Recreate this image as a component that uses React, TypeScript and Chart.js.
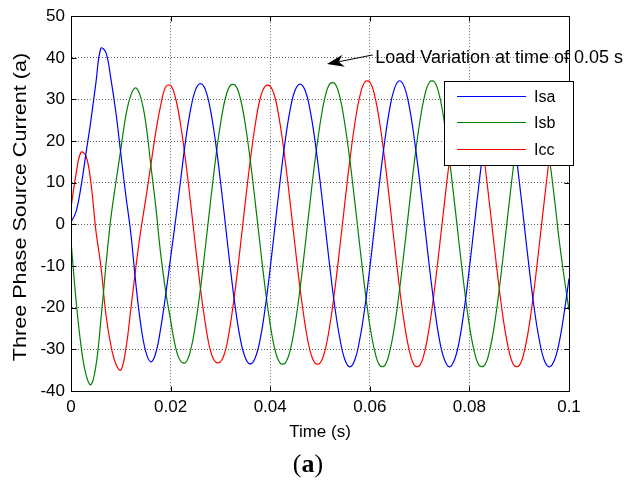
import React, { useEffect, useRef } from 'react';
import { Chart, registerables } from 'chart.js';

Chart.register(...registerables);

// ---- data ----
const timeMs = [
  0, 1, 2, 3, 4, 5, 6, 7, 8, 9, 10, 11, 12, 13, 14, 15, 16, 17, 18, 19, 20,
  21, 22, 23, 24, 25, 26, 27, 28, 29, 30, 31, 32, 33, 34, 35, 36, 37, 38, 39, 40,
  41, 42, 43, 44, 45, 46, 47, 48, 49, 50, 51, 52, 53, 54, 55, 56, 57, 58, 59, 60,
  61, 62, 63, 64, 65, 66, 67, 68, 69, 70, 71, 72, 73, 74, 75, 76, 77, 78, 79, 80,
  81, 82, 83, 84, 85, 86, 87, 88, 89, 90, 91, 92, 93, 94, 95, 96, 97, 98, 99, 100,
];

const isa = [
  0.5, 3, 9, 17, 25, 34, 42.3, 41.3, 35, 27, 17, 7, -2, -14, -24, -30.5, -33, -31, -25, -17, -8,
  1, 10.5, 20, 27.5, 32.3, 33.8, 32.3, 27.5, 20, 10.5, 0, -10.5, -20, -27.5, -32, -33.5, -32, -27.5, -20, -10.5,
  0, 10.5, 20, 27.5, 32.2, 33.7, 32.2, 27.5, 20, 10.5, 0, -10.5, -20, -27.5, -32.5, -34.2, -32.5, -27.5, -20, -10.5,
  0, 10.5, 20, 27.8, 32.8, 34.5, 32.8, 27.8, 20, 10.5, 0, -10.5, -20, -27.8, -32.5, -34.2, -32.5, -27.8, -20, -10.5,
  0, 10.5, 20, 27.5, 32.3, 34, 32.3, 27.5, 20, 10.5, 0, -10.5, -20, -27.5, -32.5, -34.2, -32.8, -28.5, -21.5, -13,
];

const isb = [
  -4, -18, -29, -36, -38.5, -34, -23, -10, 1.5, 10, 18, 26, 31, 32.8, 30.5, 24.5, 14.5, 4.5, -7, -16, -23,
  -29.5, -32.8, -33.2, -30.3, -24, -15.4, -5.3, 5.3, 15.4, 24, 30.3, 33.4, 33.4, 30.3, 24, 15.4, 5.3, -5.3, -15.4, -24,
  -30.3, -33.3, -33.3, -30.3, -24, -15.4, -5.3, 5.3, 15.4, 24, 30.5, 33.8, 33.8, 30.5, 24, 15.4, 5.3, -5.3, -15.4, -24.2,
  -30.5, -33.9, -33.9, -30.5, -24.2, -15.4, -5.3, 5.3, 15.5, 24.3, 30.8, 34.2, 34.2, 30.8, 24.3, 15.5, 5.3, -5.3, -15.5, -24.3,
  -30.6, -33.9, -33.9, -30.6, -24.3, -15.5, -5.3, 5.3, 15.4, 24, 30.4, 33.7, 33.8, 31, 25, 16.5, 7, -3.5, -12.5, -20.5,
];

const icc = [
  4, 12, 17.3, 16.5, 10, -1.5, -10, -21.5, -29, -33.5, -35, -30, -20.5, -10.5, -1.5, 6, 14, 22, 28.5, 33, 33.4,
  30.3, 24, 15.4, 5.3, -5.3, -15.4, -24, -30.3, -33, -33, -30.3, -24, -15.4, -5.3, 5.3, 15.4, 24, 30.3, 33.2, 33.2,
  30.3, 24, 15.4, 5.3, -5.3, -15.4, -24, -30.3, -33.3, -33.3, -30.3, -24, -15.4, -5.3, 5.3, 15.5, 24.3, 30.8, 34.2, 34.2,
  30.8, 24.3, 15.5, 5.3, -5.3, -15.5, -24.3, -30.6, -33.9, -33.9, -30.6, -24.3, -15.5, -5.3, 5.3, 15.4, 24, 30.4, 33.7, 33.7,
  30.4, 24, 15.4, 5.3, -5.3, -15.5, -24.3, -30.6, -33.9, -33.9, -30.6, -24.3, -15.5, -5.3, 5.3, 15.4, 24, 30.4, 33.7, 33.7,
];

const seriesNames = ['Isa', 'Isb', 'Icc'];
const seriesValues = [isa, isb, icc];
const seriesColors = ['#0000ff', '#008000', '#ff0000'];

const xTickLabels = ['0', '0.02', '0.04', '0.06', '0.08', '0.1'];
const yTickLabels = ['-40', '-30', '-20', '-10', '0', '10', '20', '30', '40', '50'];
const xTitle = 'Time (s)';
const yTitle = 'Three Phase Source Current (a)';
const annotationText = 'Load Variation at time of 0.05 s';
const annotationTextAt = [0.0611, 38.8];
const annotationArrowTail = [0.0606, 40.7];
const annotationArrowTip = [0.0514, 38.5];
const captionParts = ['(', 'a', ')'];

const FONT = 'Arial, "Liberation Sans", sans-serif';

const overlayPlugin = {
  id: 'overlay',
  afterDatasetsDraw(chart: any) {
    const { ctx, chartArea: a, scales } = chart;
    const x = scales.x;
    const y = scales.y;
    const L = Math.round(a.left) + 0.5;
    const R = Math.round(a.right) + 0.5;
    const T = Math.round(a.top) + 0.5;
    const B = Math.round(a.bottom) + 0.5;
    ctx.save();

    // frame
    ctx.strokeStyle = '#000';
    ctx.lineWidth = 1;
    ctx.setLineDash([]);
    ctx.strokeRect(L, T, R - L, B - T);

    // inward tick marks
    ctx.beginPath();
    x.ticks.forEach((t: any) => {
      const px = Math.round(x.getPixelForValue(t.value)) + 0.5;
      ctx.moveTo(px, B); ctx.lineTo(px, B - 5);
      ctx.moveTo(px, T); ctx.lineTo(px, T + 5);
    });
    y.ticks.forEach((t: any) => {
      const py = Math.round(y.getPixelForValue(t.value)) + 0.5;
      ctx.moveTo(L, py); ctx.lineTo(L + 5, py);
      ctx.moveTo(R, py); ctx.lineTo(R - 5, py);
    });
    ctx.stroke();

    // annotation arrow
    const tx = x.getPixelForValue(annotationArrowTail[0]);
    const ty = y.getPixelForValue(annotationArrowTail[1]);
    const hx = x.getPixelForValue(annotationArrowTip[0]);
    const hy = y.getPixelForValue(annotationArrowTip[1]);
    const ang = Math.atan2(ty - hy, tx - hx);
    const headLen = 17;
    const headW = 6;
    const bx = hx + Math.cos(ang) * headLen;
    const by = hy + Math.sin(ang) * headLen;
    const nx = hx + Math.cos(ang) * headLen * 0.7;
    const ny = hy + Math.sin(ang) * headLen * 0.7;
    ctx.beginPath();
    ctx.moveTo(tx, ty);
    ctx.lineTo(nx, ny);
    ctx.stroke();
    ctx.fillStyle = '#000';
    ctx.beginPath();
    ctx.moveTo(hx, hy);
    ctx.lineTo(bx - Math.sin(ang) * headW, by + Math.cos(ang) * headW);
    ctx.lineTo(nx, ny);
    ctx.lineTo(bx + Math.sin(ang) * headW, by - Math.cos(ang) * headW);
    ctx.closePath();
    ctx.fill();

    // annotation text
    ctx.font = `18px ${FONT}`;
    ctx.textAlign = 'left';
    ctx.textBaseline = 'alphabetic';
    ctx.fillText(annotationText, x.getPixelForValue(annotationTextAt[0]), y.getPixelForValue(annotationTextAt[1]));

    // legend
    const lx = 444.5, ly = 81.5, lw = 129, lh = 84;
    ctx.fillStyle = '#fff';
    ctx.fillRect(lx, ly, lw, lh);
    ctx.strokeStyle = '#000';
    ctx.lineWidth = 1;
    ctx.strokeRect(lx, ly, lw, lh);
    ctx.font = `16px ${FONT}`;
    ctx.textBaseline = 'middle';
    const rows = [96.5, 122.5, 149.5];
    seriesNames.forEach((name, i) => {
      ctx.strokeStyle = seriesColors[i];
      ctx.lineWidth = 1.2;
      ctx.beginPath();
      ctx.moveTo(457, rows[i]);
      ctx.lineTo(526, rows[i]);
      ctx.stroke();
      ctx.fillStyle = '#000';
      ctx.fillText(name, 534, rows[i] + 1);
    });

    // y-axis title (stretched along its length)
    ctx.save();
    ctx.translate(25.5, 207);
    ctx.rotate(-Math.PI / 2);
    ctx.scale(1.2, 1);
    ctx.font = `18px ${FONT}`;
    ctx.textAlign = 'center';
    ctx.textBaseline = 'alphabetic';
    ctx.fillStyle = '#000';
    ctx.fillText(yTitle, 0, 0);
    ctx.restore();

    // caption "(a)"
    ctx.textBaseline = 'alphabetic';
    ctx.textAlign = 'left';
    ctx.fillStyle = '#000';
    const fonts = [
      `26px "Liberation Serif", serif`,
      `bold 26px "Liberation Serif", serif`,
      `26px "Liberation Serif", serif`,
    ];
    let total = 0;
    const widths = captionParts.map((p, i) => {
      ctx.font = fonts[i];
      const w = ctx.measureText(p).width;
      total += w;
      return w;
    });
    let cx = 308 - total / 2;
    captionParts.forEach((p, i) => {
      ctx.font = fonts[i];
      ctx.fillText(p, cx, 472);
      cx += widths[i];
    });

    ctx.restore();
  },
};

export default function App() {
  const canvasRef = useRef<HTMLCanvasElement | null>(null);

  useEffect(() => {
    const canvas = canvasRef.current;
    if (!canvas) return;
    const datasets = seriesNames.map((name, i) => ({
      label: name,
      data: timeMs.map((t, k) => ({ x: t / 1000, y: seriesValues[i][k] })),
      borderColor: seriesColors[i],
      backgroundColor: seriesColors[i],
      borderWidth: 1.2,
      pointRadius: 0,
      tension: 0.4,
      fill: false,
    }));

    const chart = new Chart(canvas, {
      type: 'line',
      data: { datasets },
      options: {
        animation: false,
        responsive: false,
        maintainAspectRatio: false,
        devicePixelRatio: 1,
        layout: { padding: { top: 14, right: 57, bottom: 34, left: 0 } },
        plugins: {
          legend: { display: false },
          tooltip: { enabled: false },
        },
        scales: {
          x: {
            type: 'linear',
            min: 0,
            max: 0.1,
            afterFit: (s: any) => { s.height = 56; },
            ticks: {
              stepSize: 0.02,
              autoSkip: false,
              maxRotation: 0,
              padding: 6,
              color: '#000',
              font: { family: FONT, size: 17 },
              callback: (_v: any, i: number) => xTickLabels[i],
            },
            grid: { color: '#666', lineWidth: 1, drawTicks: false },
            border: { display: true, color: '#000', width: 1, dash: [1, 2] },
            title: {
              display: true,
              text: xTitle,
              color: '#000',
              font: { family: FONT, size: 17 },
              padding: { top: 0, bottom: 4 },
            },
          },
          y: {
            type: 'linear',
            min: -40,
            max: 50,
            afterFit: (s: any) => { s.width = 71; },
            ticks: {
              stepSize: 10,
              padding: 6,
              color: '#000',
              font: { family: FONT, size: 17 },
              callback: (_v: any, i: number) => yTickLabels[i],
            },
            grid: { color: '#666', lineWidth: 1, drawTicks: false },
            border: { display: true, color: '#000', width: 1, dash: [1, 2] },
          },
        },
      },
      plugins: [overlayPlugin],
    });
    return () => chart.destroy();
  }, []);

  return (
    <div style={{ position: 'fixed', left: 0, top: 0, width: 626, height: 481, background: '#fff' }}>
      <canvas ref={canvasRef} width={626} height={481} style={{ display: 'block', width: 626, height: 481 }} />
    </div>
  );
}
